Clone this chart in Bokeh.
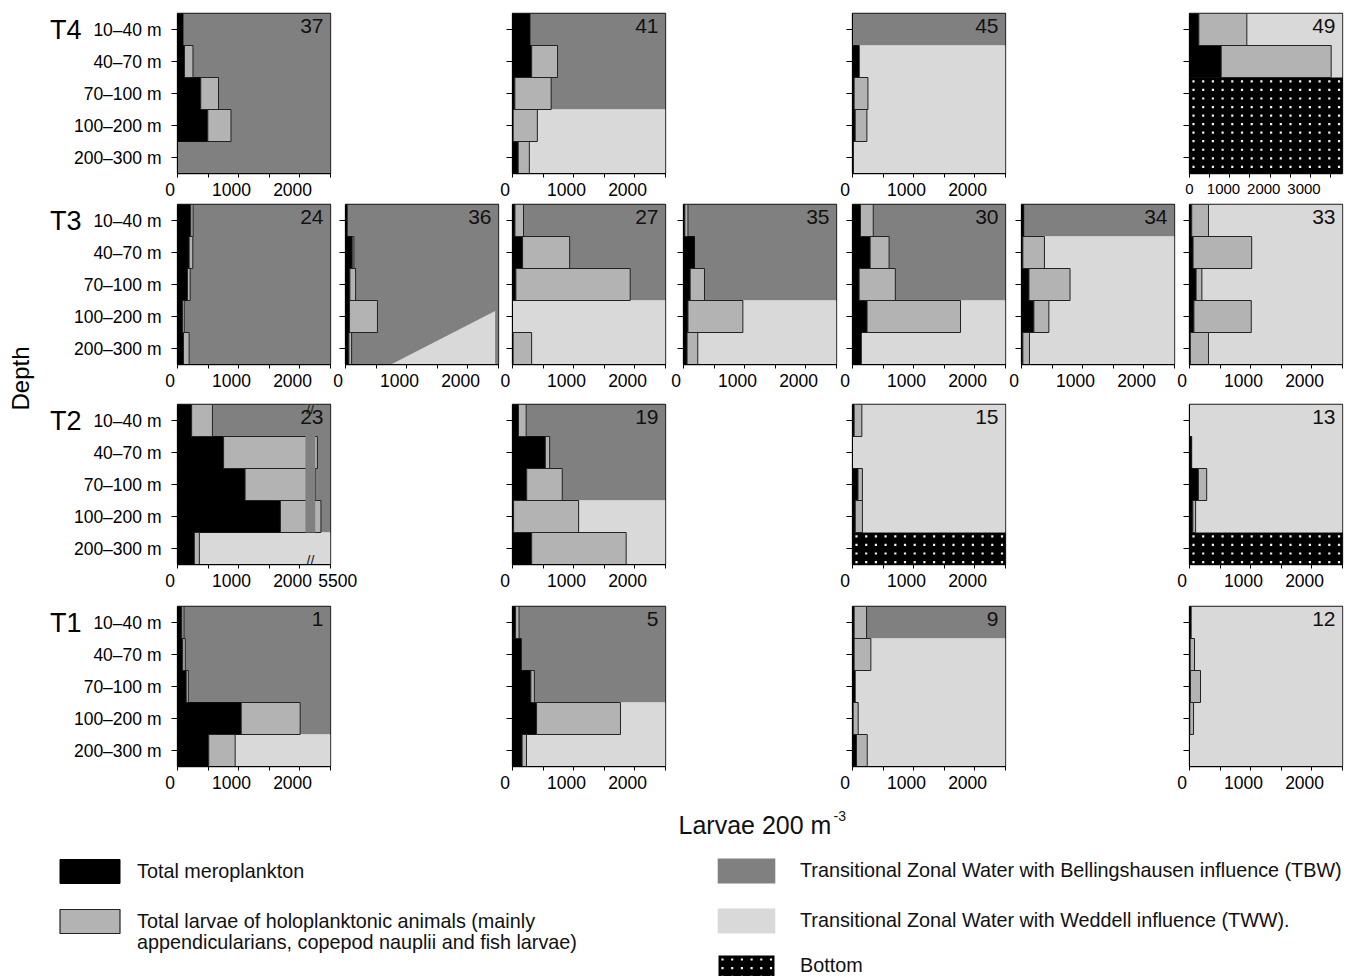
from math import pi
from bokeh.plotting import figure
from bokeh.models import Range1d, FixedTicker, Label, Legend, LegendItem, LinearAxis
from bokeh.layouts import row, column
from bokeh.embed import file_html
from bokeh.resources import INLINE

FONT = "Liberation Sans"

# ---------------- data ----------------
DEPTHS = ["10–40 m", "40–70 m", "70–100 m", "100–200 m", "200–300 m"]
TRANSECTS = ["T4", "T3", "T2", "T1"]

# larvae 200 m^-3 per depth layer: meroplankton / holoplanktonic larvae; water mass per layer
st37_mero = [90, 115, 380, 495, 0]
st37_holo = [0, 138, 290, 379, 0]
st37_water = ["TBW", "TBW", "TBW", "TBW", "TBW"]
st41_mero = [285, 313, 38, 11, 93]
st41_holo = [0, 423, 594, 395, 182]
st41_water = ["TBW", "TBW", "TBW", "TWW", "TWW"]
st45_mero = [0, 110, 27, 44, 15]
st45_holo = [0, 0, 225, 191, 0]
st45_water = ["TBW", "TWW", "TWW", "TWW", "TWW"]
st49_mero = [232, 787, 0, 0, 0]
st49_holo = [1192, 2732, 0, 0, 0]
st49_water = ["TWW", "TWW", "BOT", "BOT", "BOT"]

st24_mero = [217, 190, 163, 82, 98]
st24_holo = [38, 60, 44, 28, 92]
st24_water = ["TBW", "TBW", "TBW", "TBW", "TBW"]
st36_mero = [27, 110, 71, 66, 55]
st36_holo = [0, 27, 94, 456, 45]
st36_water = ["TBW", "TBW", "TBW", "TBW", "TBW"]
st36_tww_wedge_x = [742, 2445, 2445]
st36_tww_wedge_y = [5.5, 3.83, 5.5]
st27_mero = [40, 165, 55, 0, 10]
st27_holo = [140, 769, 1868, 0, 303]
st27_water = ["TBW", "TBW", "TBW", "TWW", "TWW"]
st35_mero = [22, 180, 109, 73, 58]
st35_holo = [51, 0, 234, 897, 175]
st35_water = ["TBW", "TBW", "TBW", "TWW", "TWW"]
st30_mero = [130, 288, 108, 238, 144]
st30_holo = [209, 310, 592, 1527, 0]
st30_water = ["TBW", "TBW", "TBW", "TWW", "TWW"]
st34_mero = [36, 22, 122, 202, 22]
st34_holo = [0, 353, 671, 245, 108]
st34_water = ["TBW", "TWW", "TWW", "TWW", "TWW"]
st33_mero = [36, 58, 108, 72, 14]
st33_holo = [274, 958, 94, 937, 296]
st33_water = ["TWW", "TWW", "TWW", "TWW", "TWW"]

st23_mero = [231, 753, 1104, 1681, 275]
st23_holo = [340, 3892, 3396, 3195, 82]
st23_water = ["TBW", "TBW", "TBW", "TBW", "TWW"]
st19_mero = [98, 536, 232, 18, 313]
st19_holo = [125, 71, 581, 1062, 1544]
st19_water = ["TBW", "TBW", "TBW", "TWW", "TWW"]
st15_mero = [27, 0, 90, 45, 0]
st15_holo = [126, 0, 72, 117, 0]
st15_water = ["TWW", "TWW", "TWW", "TWW", "BOT"]
st13_mero = [0, 36, 145, 54, 0]
st13_holo = [0, 0, 136, 46, 0]
st13_water = ["TWW", "TWW", "TWW", "TWW", "BOT"]

st1_mero = [71, 85, 142, 1041, 510]
st1_holo = [35, 42, 35, 963, 432]
st1_water = ["TBW", "TBW", "TBW", "TBW", "TWW"]
st5_mero = [50, 143, 300, 393, 157]
st5_holo = [57, 0, 57, 1371, 72]
st5_water = ["TBW", "TBW", "TBW", "TWW", "TWW"]
st9_mero = [27, 27, 44, 11, 66]
st9_holo = [203, 273, 0, 82, 175]
st9_water = ["TBW", "TWW", "TWW", "TWW", "TWW"]
st12_mero = [27, 11, 16, 5, 0]
st12_holo = [0, 71, 164, 61, 0]
st12_water = ["TWW", "TWW", "TWW", "TWW", "TWW"]

X_TICKS = [0, 1000, 2000]
X_TICKS_49 = [0, 1000, 2000, 3000]
X_TICKS_23 = [0, 1000, 2000, 5500]

# (station, column, mero, holo, water)
ROWS = {
    "T4": [("37", 0, st37_mero, st37_holo, st37_water), ("41", 2, st41_mero, st41_holo, st41_water),
           ("45", 4, st45_mero, st45_holo, st45_water), ("49", 6, st49_mero, st49_holo, st49_water)],
    "T3": [("24", 0, st24_mero, st24_holo, st24_water), ("36", 1, st36_mero, st36_holo, st36_water),
           ("27", 2, st27_mero, st27_holo, st27_water), ("35", 3, st35_mero, st35_holo, st35_water),
           ("30", 4, st30_mero, st30_holo, st30_water), ("34", 5, st34_mero, st34_holo, st34_water),
           ("33", 6, st33_mero, st33_holo, st33_water)],
    "T2": [("23", 0, st23_mero, st23_holo, st23_water), ("19", 2, st19_mero, st19_holo, st19_water),
           ("15", 4, st15_mero, st15_holo, st15_water), ("13", 6, st13_mero, st13_holo, st13_water)],
    "T1": [("1", 0, st1_mero, st1_holo, st1_water), ("5", 2, st5_mero, st5_holo, st5_water),
           ("9", 4, st9_mero, st9_holo, st9_water), ("12", 6, st12_mero, st12_holo, st12_water)],
}

# ---------------- styles / layout ----------------
C_TBW = "#808080"
C_TWW = "#d9d9d9"
C_HOLO = "#b3b3b3"
C_EDGE = "#222222"
C_DOT = "#f2f2f2"
FW, FH = 153, 163
COL_X = [177, 345, 512, 683, 852, 1021, 1189]
ROW_TB = {"T4": (13, 26), "T3": (2, 26), "T2": (11, 26), "T1": (13, 26)}
DEPTH_W = 36
NB = "\u00a0" * 3   # shifts centred tick labels slightly left, as in the source figure
TICK_FS = "17.5px"
DOT_DX, DOT_DY = 9.7, 8.7   # spacing (px) of the white dot texture marking "Bottom"

# broken axis (station 23): values above the break are compressed
BRK_START, BRK_END, BRK_VALUE, BRK_MAX = 2090, 2250, 4500, 5500


def brk_map(v):
    if v <= BRK_START:
        return v
    return BRK_END + (v - BRK_VALUE) * (2500 - BRK_END) / (BRK_MAX - BRK_VALUE)


def runs(water):
    out, start = [], 0
    for i in range(1, 6):
        if i == 5 or water[i] != water[start]:
            out.append((water[start], start, i - 1))
            start = i
    return out


def dot_texture(px0, px1, py0, py1):
    """pixel positions of a regular dot texture inside a box"""
    xs, ys = [], []
    py = py0 + 4
    while py < py1 - 1:
        px = px0 + 4
        while px < px1 - 1:
            xs.append(px)
            ys.append(py)
            px += DOT_DX
        py += DOT_DY
    return xs, ys


def make_panel(transect, station, col, mero, holo, water, L, R, T, B):
    broken = station == "23"
    xmax = 3800 if station == "49" else 2500
    f = brk_map if broken else (lambda v: v)
    p = figure(width=L + FW + R, height=T + FH + B, x_range=Range1d(0, xmax), y_range=Range1d(5.5, 0.5),
               output_backend="svg", toolbar_location=None, min_border_left=L, min_border_right=R,
               min_border_top=T, min_border_bottom=B)
    p.grid.visible = False
    p.outline_line_color = "#1a1a1a"
    p.outline_line_width = 1.3
    p.background_fill_color = "white"
    p.border_fill_color = "white"
    ys = list(range(1, 6))
    # water masses (contiguous layers merged)
    for wm, i0, i1 in runs(water):
        if wm == "BOT":
            p.quad(left=[0], right=[xmax], top=[ys[i0] - 0.5], bottom=[ys[i1] + 0.5],
                   fill_color="black", line_color=None)
            dx, dy = dot_texture(0, FW, i0 * FH / 5, (i1 + 1) * FH / 5)
            p.scatter([v / FW * xmax for v in dx], [0.5 + v / FH * 5 for v in dy], marker="square",
                      size=2.2, fill_color=C_DOT, line_color=None)
        else:
            p.quad(left=[0], right=[xmax], top=[ys[i0] - 0.5], bottom=[ys[i1] + 0.5],
                   fill_color=C_TBW if wm == "TBW" else C_TWW, line_color=None)
    if station == "36":
        p.patch(st36_tww_wedge_x, st36_tww_wedge_y, fill_color=C_TWW, line_color=None)
    # bars
    mi = [i for i in range(5) if mero[i] > 0]
    if mi:
        p.quad(left=[0] * len(mi), right=[f(mero[i]) for i in mi], top=[ys[i] - 0.5 for i in mi],
               bottom=[ys[i] + 0.5 for i in mi], fill_color="black", line_color="black", line_width=0.8)
    hi = [i for i in range(5) if holo[i] > 0]
    if hi:
        p.quad(left=[f(mero[i]) for i in hi], right=[f(mero[i] + holo[i]) for i in hi],
               top=[ys[i] - 0.5 for i in hi], bottom=[ys[i] + 0.5 for i in hi],
               fill_color=C_HOLO, line_color=C_EDGE, line_width=1)
    if broken:
        p.quad(left=[BRK_START], right=[BRK_END], top=[0.5], bottom=[4.5], fill_color=C_TBW, line_color=None)
        for yy in (0.62, 5.38):
            p.add_layout(Label(x=(BRK_START + BRK_END) / 2, y=yy, text="//", text_align="center",
                               text_baseline="middle", text_font=FONT, text_font_size="15px",
                               text_color="#222222"))
    # x axis
    xa = p.xaxis[0]
    fs = TICK_FS
    if station == "49":
        xa.ticker = FixedTicker(ticks=X_TICKS_49, minor_ticks=[500, 1500, 2500, 3500])
        xa.major_label_overrides = {t: (str(t) + NB if t else str(t)) for t in X_TICKS_49}
        fs = "15px"
    elif broken:
        xa.ticker = FixedTicker(ticks=[0, 1000, 2000, 2500], minor_ticks=[500, 1500])
        ov = {t: str(t) + NB for t in X_TICKS_23[:-1]}
        ov[2500] = NB + str(X_TICKS_23[-1])
        xa.major_label_overrides = ov
    else:
        xa.ticker = FixedTicker(ticks=X_TICKS, minor_ticks=[500, 1500, 2500])
        xa.major_label_overrides = {t: str(t) + NB for t in X_TICKS}
    xa.major_label_text_font = FONT
    xa.major_label_text_font_size = fs
    xa.major_label_text_color = "black"
    xa.major_tick_out = 4
    xa.major_tick_in = 0
    xa.minor_tick_out = 4
    xa.minor_tick_in = 0
    xa.major_label_standoff = 2
    xa.axis_line_color = "black"
    # y axis
    ya = p.yaxis[0]
    ya.ticker = FixedTicker(ticks=ys, minor_ticks=[])
    if col == 0:
        ya.major_label_overrides = {ys[i]: DEPTHS[i] for i in range(5)}
        ya.major_label_standoff = 10
    else:
        ya.major_label_overrides = {ys[i]: "" for i in range(5)}
        ya.major_label_standoff = 0
    ya.major_label_text_font = FONT
    ya.major_label_text_font_size = TICK_FS
    ya.major_label_text_color = "black"
    ya.major_tick_out = 6
    ya.major_tick_in = 0
    ya.minor_tick_out = 0
    ya.axis_line_color = "black"
    if col == 0:
        ta = LinearAxis(ticker=FixedTicker(ticks=[1], minor_ticks=[]), major_label_overrides={1: transect},
                        major_tick_out=0, major_tick_in=0, minor_tick_out=0, minor_tick_in=0,
                        axis_line_color=None, major_label_standoff=-11, major_label_text_font=FONT,
                        major_label_text_font_size="27px", major_label_text_color="black")
        p.add_layout(ta, "left")
    # station number
    p.add_layout(Label(x=FW - 7, y=FH - 15, x_units="screen", y_units="screen", text=station,
                       text_align="right", text_baseline="middle", text_font=FONT, text_font_size="21px",
                       text_color="#111111"))
    return p


row_layouts = []
for tr in TRANSECTS:
    T, B = ROW_TB[tr]
    prev_right = DEPTH_W
    figs = []
    for (st, col, mero, holo, water) in ROWS[tr]:
        R = 30 if st == "23" else 2
        L = COL_X[col] - prev_right
        figs.append(make_panel(tr, st, col, mero, holo, water, L, R, T, B))
        prev_right = COL_X[col] + FW + R
    row_layouts.append(row(*figs, spacing=0))

rows_h = sum(sum(ROW_TB[t]) + FH for t in TRANSECTS)

depth_fig = figure(width=DEPTH_W, height=rows_h, x_range=Range1d(0, 1), y_range=Range1d(0, 1),
                   x_axis_location=None, y_axis_location=None, toolbar_location=None,
                   output_backend="svg", min_border=0, outline_line_color=None)
depth_fig.grid.visible = False
depth_fig.add_layout(Label(x=20, y=rows_h - 378, x_units="screen", y_units="screen", text="Depth",
                           angle=pi / 2, text_align="center", text_baseline="middle", text_font=FONT,
                           text_font_size="24px", text_color="black"))

# ---------------- axis title and legend (page-pixel coordinates) ----------------
BOT_W = 1355
BOT_H = 181
top_img = rows_h
leg_fig = figure(width=BOT_W, height=BOT_H, x_range=Range1d(0, BOT_W), y_range=Range1d(top_img + BOT_H, top_img),
                 x_axis_location=None, y_axis_location=None, toolbar_location=None,
                 output_backend="svg", min_border=0, outline_line_color=None)
leg_fig.grid.visible = False


def fy(img_y):
    return BOT_H - (img_y - top_img)


leg_fig.add_layout(Label(x=678, y=fy(824), x_units="screen", y_units="screen", text="Larvae 200 m",
                         text_baseline="middle", text_font=FONT, text_font_size="25px", text_color="#111111"))
leg_fig.add_layout(Label(x=833, y=fy(815), x_units="screen", y_units="screen", text="-3",
                         text_baseline="middle", text_font=FONT, text_font_size="14px", text_color="#111111"))

# "Bottom" legend swatch: black box with the dot texture (drawn as glyphs so the dots stay on top)
SW_X0, SW_X1, SW_Y0, SW_Y1 = 718, 774, 955, 981
leg_fig.quad(left=[SW_X0], right=[SW_X1], top=[SW_Y0], bottom=[SW_Y1], fill_color="black", line_color=None)
sw_x, sw_y = dot_texture(SW_X0, SW_X1, SW_Y0, SW_Y1)
leg_fig.scatter(sw_x, sw_y, marker="square", size=2.2, fill_color=C_DOT, line_color=None)

# legend renderers: one off-screen dummy quad each
OFF = dict(left=[-60], right=[-50], top=[-60], bottom=[-50])
r_mero = leg_fig.quad(**OFF, fill_color="black", line_color="black")
r_holo = leg_fig.quad(**OFF, fill_color=C_HOLO, line_color=C_EDGE, line_width=1.2)
r_none = leg_fig.quad(**OFF, fill_alpha=0, line_alpha=0)
r_tbw = leg_fig.quad(**OFF, fill_color=C_TBW, line_color=None)
r_tww = leg_fig.quad(**OFF, fill_color=C_TWW, line_color=None)


def add_legend(renderer, text, img_x, img_ybottom, gw, gh, standoff):
    lg = Legend(items=[LegendItem(label=text, renderers=[renderer])],
                location=(img_x, fy(img_ybottom)), padding=0, margin=0, spacing=0,
                glyph_width=gw, glyph_height=gh, label_height=gh, label_standoff=standoff,
                label_text_font=FONT, label_text_font_size="19.8px", label_text_color="#111111",
                border_line_color=None, background_fill_alpha=0)
    leg_fig.add_layout(lg)


add_legend(r_mero, "Total meroplankton", 52, 886, 75, 30, 10)
add_legend(r_holo, "Total larvae of holoplanktonic animals (mainly", 52, 936, 75, 30, 10)
add_legend(r_none, "appendicularians, copepod nauplii and fish larvae)", 52, 957, 75, 30, 10)
add_legend(r_tbw, "Transitional Zonal Water with Bellingshausen influence (TBW)", 710, 886, 72, 31, 18)
add_legend(r_tww, "Transitional Zonal Water with Weddell influence (TWW).", 710, 936, 72, 31, 18)
add_legend(r_none, "Bottom", 711, 981, 70, 31, 19)

layout = column(row(depth_fig, column(*row_layouts, spacing=0), spacing=0), leg_fig, spacing=0)

open("out.html", "w").write(file_html(layout, INLINE))
